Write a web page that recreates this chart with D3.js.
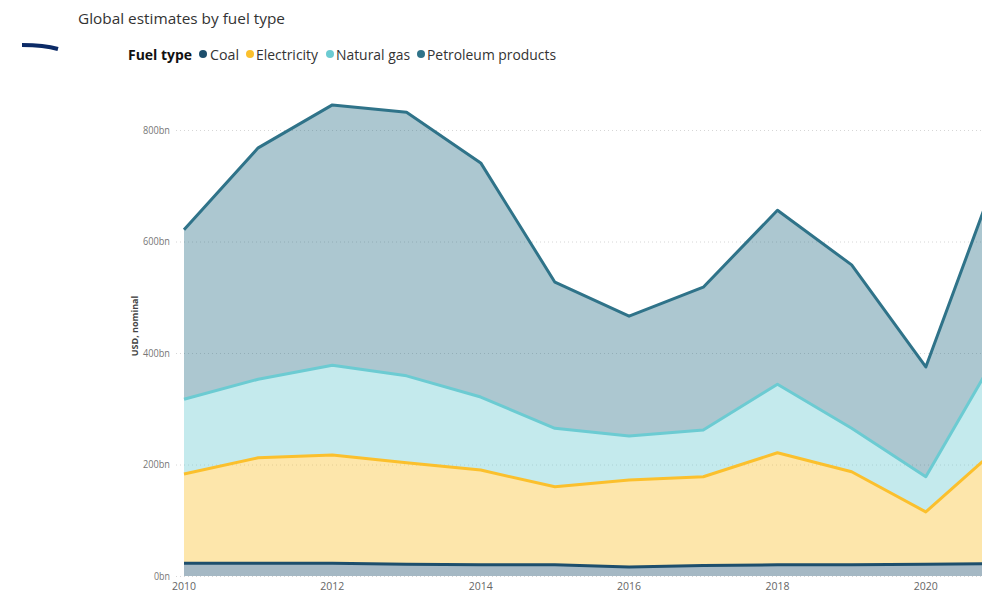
<!DOCTYPE html>
<html>
<head>
<meta charset="utf-8">
<script src="https://cdn.jsdelivr.net/npm/d3@7"></script>
<style>
  body { margin: 0; background: #fff; overflow: hidden; }
  svg { display: block; font-family: 'Open Sans', 'Noto Sans', sans-serif; }
</style>
</head>
<body>
<svg id="chart"></svg>
<script>
// values in USD bn (stacked: coal at the bottom)
const years = [2010, 2011, 2012, 2013, 2014, 2015, 2016, 2017, 2018, 2019, 2020, 2021];
const coal = [23, 23, 23, 21, 20, 20, 16, 19, 20, 20, 21, 22];
const electricity = [160, 189, 194, 182, 170, 140, 156, 159, 201, 167, 94, 211];
const naturalGas = [134, 141, 161, 156, 131, 105, 79, 84, 123, 78, 63, 175];
const petroleum = [304, 415, 467, 473, 420, 262, 215, 256, 312, 293, 197, 327];
const fuelTypes = ['Coal', 'Electricity', 'Natural gas', 'Petroleum products'];
const yTicks = [0, 200, 400, 600, 800];
const xTicks = [2010, 2012, 2014, 2016, 2018, 2020];

const colors = {
  'Coal': '#1d4e6c',
  'Electricity': '#fbc02d',
  'Natural gas': '#6ccbd2',
  'Petroleum products': '#2f7389'
};

const width = 982;
const height = 593;

const rows = years.map((y, i) => ({
  year: y,
  'Coal': coal[i],
  'Electricity': electricity[i],
  'Natural gas': naturalGas[i],
  'Petroleum products': petroleum[i]
}));

const svg = d3.select('#chart').attr('width', width).attr('height', height);

const xScale = d3.scaleLinear().domain([2010, 2021]).range([184, 1000]);
const yScale = d3.scaleLinear().domain([0, 800]).range([576, 130]);

/* title */
svg.append('text')
  .attr('x', 78).attr('y', 24)
  .attr('font-size', 14.5)
  .attr('fill', '#333')
  .attr('textLength', 207).attr('lengthAdjust', 'spacingAndGlyphs')
  .text('Global estimates by fuel type');

/* the small navy stroke on the left */
svg.append('path')
  .attr('d', 'M22,45 Q44,45 58,49')
  .attr('fill', 'none')
  .attr('stroke', '#0b2a66')
  .attr('stroke-width', 4);

/* legend */
const legend = svg.append('g');
legend.append('text')
  .attr('x', 128).attr('y', 60)
  .attr('font-size', 15).attr('font-weight', 'bold')
  .attr('fill', '#111')
  .attr('textLength', 64).attr('lengthAdjust', 'spacingAndGlyphs')
  .text('Fuel type');
const legendPos = [
  { dot: 203, x: 210, w: 29 },
  { dot: 250, x: 256, w: 62 },
  { dot: 330, x: 336, w: 74 },
  { dot: 421, x: 427, w: 129 }
];
fuelTypes.forEach((f, i) => {
  legend.append('circle')
    .attr('cx', legendPos[i].dot).attr('cy', 54).attr('r', 4)
    .attr('fill', colors[f]);
  legend.append('text')
    .attr('x', legendPos[i].x).attr('y', 60)
    .attr('font-size', 15).attr('fill', '#333')
    .attr('textLength', legendPos[i].w).attr('lengthAdjust', 'spacingAndGlyphs')
    .text(f);
});

/* grid + y labels */
const grid = svg.append('g');
grid.selectAll('line')
  .data(yTicks)
  .enter()
  .append('line')
  .attr('x1', 176).attr('x2', width)
  .attr('y1', d => yScale(d) + 0.5).attr('y2', d => yScale(d) + 0.5)
  .attr('stroke', '#d6d6d6')
  .attr('stroke-dasharray', '1,3');

grid.selectAll('text')
  .data(yTicks)
  .enter()
  .append('text')
  .attr('x', 170)
  .attr('y', d => yScale(d) + 3.5)
  .attr('text-anchor', 'end')
  .attr('font-size', 10)
  .attr('fill', '#777')
  .attr('textLength', d => d === 0 ? 16 : 27).attr('lengthAdjust', 'spacingAndGlyphs')
  .text(d => d + 'bn');

svg.append('text')
  .attr('transform', 'translate(138, 326) rotate(-90)')
  .attr('text-anchor', 'middle')
  .attr('font-size', 9)
  .attr('font-weight', 'bold')
  .attr('fill', '#444')
  .text('USD, nominal');

/* stacked areas */
const stack = d3.stack().keys(fuelTypes);
const series = stack(rows);

const area = d3.area()
  .x(d => xScale(d.data.year))
  .y0(d => yScale(d[0]))
  .y1(d => yScale(d[1]));

const line = d3.line()
  .x(d => xScale(d.data.year))
  .y(d => yScale(d[1]));

const plot = svg.append('g');
plot.selectAll('path.area')
  .data(series)
  .enter()
  .append('path')
  .attr('class', 'area')
  .attr('d', area)
  .attr('fill', d => colors[d.key])
  .attr('fill-opacity', 0.4);

plot.selectAll('path.line')
  .data(series)
  .enter()
  .append('path')
  .attr('class', 'line')
  .attr('d', line)
  .attr('fill', 'none')
  .attr('stroke', d => colors[d.key])
  .attr('stroke-width', 3)
  .attr('stroke-linejoin', 'round');

/* x axis labels */
svg.append('g')
  .selectAll('text')
  .data(xTicks)
  .enter()
  .append('text')
  .attr('x', d => xScale(d))
  .attr('y', 590)
  .attr('text-anchor', 'middle')
  .attr('font-size', 10.5)
  .attr('fill', '#666')
  .text(d => d);
</script>
</body>
</html>
